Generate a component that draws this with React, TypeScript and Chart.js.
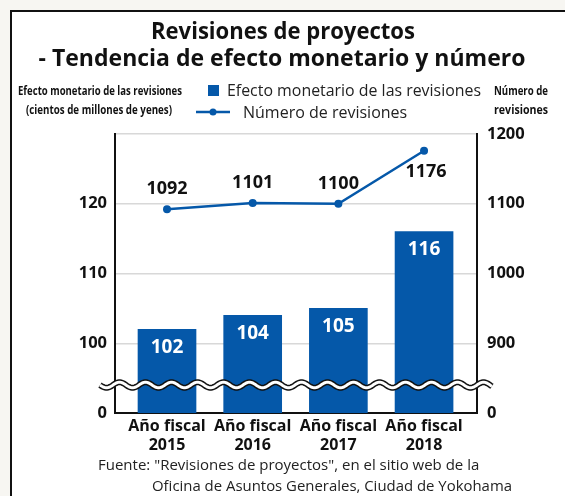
import React, { useEffect, useRef } from "react";
import { Chart, registerables } from "chart.js";

Chart.register(...registerables);

const titleLines = ["Revisiones de proyectos", "- Tendencia de efecto monetario y número"];
const categories = ["2015", "2016", "2017", "2018"];
const tickLabels = [
  ["Año fiscal", "2015"],
  ["Año fiscal", "2016"],
  ["Año fiscal", "2017"],
  ["Año fiscal", "2018"],
];
const montoValues = [102, 104, 105, 116];
const numeroValues = [1092, 1101, 1100, 1176];
const leftAxisTitle = ["Efecto monetario de las revisiones", "(cientos de millones de yenes)"];
const rightAxisTitle = ["Número de", "revisiones"];
const legendLabels = ["Efecto monetario de las revisiones", "Número de revisiones"];
const footerLines = [
  'Fuente: "Revisiones de proyectos", en el sitio web de la',
  "Oficina de Asuntos Generales, Ciudad de Yokohama",
];

const BLUE = "#0558a9";
const FONT = "'Open Sans', 'Noto Sans', sans-serif";

const decorPlugin = {
  id: "decor",
  beforeDraw(chart: any) {
    const ctx = chart.ctx;
    const W = chart.width;
    const H = chart.height;
    ctx.save();
    ctx.fillStyle = "#f7f6f2";
    ctx.fillRect(0, 0, W, H);
    ctx.fillStyle = "#ffffff";
    ctx.fillRect(10, 10, W - 10, H - 10);
    ctx.strokeStyle = "#111";
    ctx.lineWidth = 2;
    ctx.beginPath();
    ctx.moveTo(11, H);
    ctx.lineTo(11, 11);
    ctx.lineTo(W, 11);
    ctx.stroke();

    // title
    ctx.fillStyle = "#111";
    ctx.textAlign = "center";
    ctx.textBaseline = "middle";
    ctx.font = `bold 23px ${FONT}`;
    ctx.fillText(titleLines[0], 283, 32, 264);
    ctx.fillText(titleLines[1], 282, 59, 494);

    // axis titles
    ctx.font = `bold 13px ${FONT}`;
    ctx.fillText(leftAxisTitle[0], 100, 91, 164);
    ctx.fillText(leftAxisTitle[1], 99, 110, 146);
    ctx.fillText(rightAxisTitle[0], 521, 91, 54);
    ctx.fillText(rightAxisTitle[1], 521, 110, 54);

    // legend
    ctx.fillStyle = BLUE;
    ctx.fillRect(208, 85, 11, 11);
    ctx.strokeStyle = BLUE;
    ctx.lineWidth = 2.5;
    ctx.beginPath();
    ctx.moveTo(196, 112);
    ctx.lineTo(230, 112);
    ctx.stroke();
    ctx.beginPath();
    ctx.arc(213, 112, 3.5, 0, Math.PI * 2);
    ctx.fill();
    ctx.fillStyle = "#222";
    ctx.textAlign = "left";
    ctx.font = `16px ${FONT}`;
    ctx.fillText(legendLabels[0], 227, 91, 254);
    ctx.fillText(legendLabels[1], 243, 113);

    // footer
    ctx.font = `15px ${FONT}`;
    ctx.textAlign = "left";
    ctx.fillText(footerLines[0], 98, 466, 383);
    ctx.textAlign = "right";
    ctx.fillText(footerLines[1], 512, 487, 360);
    ctx.restore();
  },
  afterDatasetsDraw(chart: any) {
    const ctx = chart.ctx;
    ctx.save();
    ctx.textAlign = "center";
    ctx.textBaseline = "middle";
    // bar labels
    const barMeta = chart.getDatasetMeta(0);
    ctx.fillStyle = "#ffffff";
    ctx.font = `bold 19px ${FONT}`;
    barMeta.data.forEach((el: any, i: number) => {
      ctx.fillText(String(montoValues[i]), el.x, el.y + 18);
    });
    // line labels
    const lineMeta = chart.getDatasetMeta(1);
    ctx.fillStyle = "#111";
    ctx.font = `bold 18px ${FONT}`;
    lineMeta.data.forEach((el: any, i: number) => {
      const below = i === numeroValues.length - 1;
      ctx.fillText(String(numeroValues[i]), el.x + (below ? 2 : 0), el.y + (below ? 21 : -20));
    });

    // axis break wave
    const y0 = 385;
    const x0 = 100;
    const x1 = 492;
    const wl = 26;
    const amp = 2.8;
    ctx.beginPath();
    for (let x = x0; x <= x1; x += 1) {
      const y = y0 + amp * Math.sin(((x - x0) / wl) * Math.PI * 2);
      if (x === x0) ctx.moveTo(x, y);
      else ctx.lineTo(x, y);
    }
    ctx.lineCap = "butt";
    ctx.strokeStyle = "#111";
    ctx.lineWidth = 6;
    ctx.stroke();
    ctx.strokeStyle = "#ffffff";
    ctx.lineWidth = 3;
    ctx.stroke();
    ctx.restore();
  },
};

export default function App() {
  const ref = useRef<HTMLCanvasElement | null>(null);
  useEffect(() => {
    if (!ref.current) return;
    const chart = new Chart(ref.current, {
      type: "bar",
      data: {
        datasets: [
          {
            type: "bar",
            label: legendLabels[0],
            data: montoValues.map((v, i) => ({ x: i, y: v })),
            backgroundColor: BLUE,
            barThickness: 58,
            yAxisID: "y",
            order: 2,
          } as any,
          {
            type: "line",
            label: legendLabels[1],
            data: numeroValues.map((v, i) => ({ x: i, y: v })),
            borderColor: BLUE,
            backgroundColor: BLUE,
            borderWidth: 2.5,
            pointRadius: 4,
            pointBackgroundColor: BLUE,
            pointBorderWidth: 0,
            yAxisID: "y1",
            order: 1,
          } as any,
        ],
      },
      options: {
        responsive: false,
        animation: false,
        layout: { padding: { top: 134, left: 0, right: 0, bottom: 0 } },
        plugins: {
          legend: { display: false },
          title: { display: false },
          tooltip: { enabled: false },
        },
        scales: {
          x: {
            type: "linear",
            min: -0.607,
            max: 3.618,
            offset: false,
            afterBuildTicks: (scale: any) => {
              scale.ticks = categories.map((_, i) => ({ value: i }));
            },
            afterFit: (scale: any) => {
              scale.height = 83;
            },
            grid: { display: false, drawTicks: false },
            border: { display: true, color: "#111", width: 2 },
            ticks: {
              padding: 4,
              color: "#111",
              font: { family: FONT, size: 16, weight: "bold", lineHeight: 1.2 },
              callback: (v: any) => tickLabels[Math.round(v)] ?? "",
              maxRotation: 0,
              autoSkip: false,
            },
          },
          y: {
            type: "linear",
            position: "left",
            min: 90,
            max: 130,
            afterFit: (scale: any) => {
              scale.width = 115;
            },
            grid: { color: "#d8d8d8", lineWidth: 1.5, drawTicks: false },
            border: { display: true, color: "#111", width: 2 },
            ticks: {
              stepSize: 10,
              padding: 8,
              color: "#111",
              font: { family: FONT, size: 16.5, weight: "bold" },
              callback: (v: any) => (v === 90 ? "0" : v === 130 ? "" : String(v)),
            },
          },
          y1: {
            type: "linear",
            position: "right",
            min: 800,
            max: 1200,
            afterFit: (scale: any) => {
              scale.width = 88;
            },
            grid: { display: false, drawTicks: false },
            border: { display: true, color: "#111", width: 2 },
            ticks: {
              stepSize: 100,
              padding: 10,
              color: "#111",
              font: { family: FONT, size: 16.5, weight: "bold" },
              callback: (v: any) => (v === 800 ? "0" : String(v)),
            },
          },
        },
      } as any,
      plugins: [decorPlugin],
    });
    return () => chart.destroy();
  }, []);
  return (
    <div style={{ position: "absolute", left: 0, top: 0, width: 565, height: 496 }}>
      <canvas ref={ref} width={565} height={496} style={{ display: "block", width: 565, height: 496 }} />
    </div>
  );
}
